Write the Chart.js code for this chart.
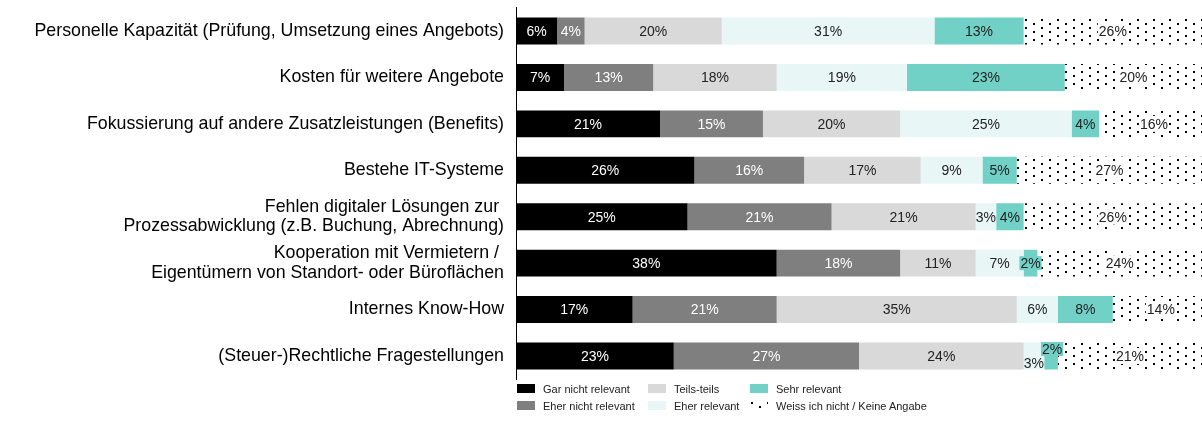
<!DOCTYPE html>
<html lang="de">
<head>
<meta charset="utf-8">
<title>Hemmnisse</title>
<script src="https://cdn.jsdelivr.net/npm/chart.js@4/dist/chart.umd.min.js"></script>
<style>
    body { margin: 0; background: #fff; font-family: 'Liberation Sans', Arial, sans-serif; overflow: hidden; }
    #wrap { position: relative; width: 1202px; height: 421px; overflow: hidden; }
    #chart { position: absolute; left: 0; top: -14px; }
    #legende { position: absolute; left: 0; top: 0; width: 1202px; height: 421px; pointer-events: none; }
    .item { position: absolute; font-size: 11px; color: #222; line-height: 12px; white-space: nowrap; }
    .box { position: absolute; width: 18px; height: 9px; }
</style>
</head>
<body>
<div id="wrap">
    <canvas id="chart" width="1202" height="415"></canvas>
    <div id="legende"></div>
</div>
<script>
// Kategorien (Zeilen)
var kategorien = [
    'Personelle Kapazität (Prüfung, Umsetzung eines Angebots)',
    'Kosten für weitere Angebote',
    'Fokussierung auf andere Zusatzleistungen (Benefits)',
    'Bestehe IT-Systeme',
    ['Fehlen digitaler Lösungen zur ', 'Prozessabwicklung (z.B. Buchung, Abrechnung)'],
    ['Kooperation mit Vermietern / ', 'Eigentümern von Standort- oder Büroflächen'],
    'Internes Know-How',
    '(Steuer-)Rechtliche Fragestellungen'
];

// Antwortkategorien
var serien = [
    'Gar nicht relevant',
    'Eher nicht relevant',
    'Teils-teils',
    'Eher relevant',
    'Sehr relevant',
    'Weiss ich nicht / Keine Angabe'
];

// Werte in Prozent, je Serie
var garNicht   = [6, 7, 21, 26, 25, 38, 17, 23];
var eherNicht  = [4, 13, 15, 16, 21, 18, 21, 27];
var teilsTeils = [20, 18, 20, 17, 21, 11, 35, 24];
var eherRel    = [31, 19, 25, 9, 3, 7, 6, 3];
var sehrRel    = [13, 23, 4, 5, 4, 2, 8, 2];
var weissNicht = [26, 20, 16, 27, 26, 24, 14, 21];

var farben = ['#000000', '#7f7f7f', '#d9d9d9', '#e8f6f5', '#71d1c7', null];
var textFarben = ['#ffffff', '#ffffff', '#222222', '#222222', '#222222', '#222222'];

// Punktmuster für "Weiss ich nicht"
function punktMuster() {
    var c = document.createElement('canvas');
    c.width = 16;
    c.height = 8;
    var g = c.getContext('2d');
    g.fillStyle = '#ffffff';
    g.fillRect(0, 0, 16, 8);
    g.fillStyle = '#000000';
    g.fillRect(1, 1, 2, 2);
    g.fillRect(9, 5, 2, 2);
    return c;
}
var musterCanvas = punktMuster();
var ctx = document.getElementById('chart').getContext('2d');
farben[5] = ctx.createPattern(musterCanvas, 'repeat');

var werte = [garNicht, eherNicht, teilsTeils, eherRel, sehrRel, weissNicht];

// Sonderfälle für kleine Segmente (Serie-Zeile): Verschiebung und Hintergrund
var labelVerschiebung = {
    '4-5': { dx: 0, dy: 0, bg: true },
    '3-7': { dx: 0, dy: 7, bg: false },
    '4-7': { dx: 1, dy: -7, bg: true }
};

var datalabels = {
    id: 'datalabels',
    afterDatasetsDraw: function (chart) {
        var c = chart.ctx;
        c.save();
        c.font = '14px "Liberation Sans", Arial, sans-serif';
        c.textAlign = 'center';
        c.textBaseline = 'middle';
        chart.data.datasets.forEach(function (ds, di) {
            var meta = chart.getDatasetMeta(di);
            meta.data.forEach(function (bar, i) {
                var v = ds.data[i];
                if (!v) {
                    return;
                }
                var txt = v + '%';
                var x = (bar.x + bar.base) / 2;
                var y = bar.y;
                var sonder = labelVerschiebung[di + '-' + i];
                if (sonder) {
                    x += sonder.dx;
                    y += sonder.dy;
                }
                var w = c.measureText(txt).width;
                if (di === 5) {
                    c.fillStyle = '#ffffff';
                    c.fillRect(x - w / 2 - 1, y - 8, w + 2, 16);
                } else if (sonder && sonder.bg) {
                    c.fillStyle = farben[di];
                    c.fillRect(x - w / 2 - 1, y - 7, w + 2, 14);
                }
                c.fillStyle = textFarben[di];
                c.fillText(txt, x, y + 1);
            });
        });
        c.restore();
    }
};

var chart = new Chart(ctx, {
    type: 'bar',
    data: {
        labels: kategorien,
        datasets: serien.map(function (name, i) {
            return {
                label: name,
                data: werte[i],
                backgroundColor: farben[i],
                borderWidth: 0,
                barPercentage: 0.58,
                categoryPercentage: 1
            };
        })
    },
    options: {
        indexAxis: 'y',
        responsive: false,
        animation: false,
        layout: { padding: { top: 6, bottom: 3, left: 0, right: 0 } },
        plugins: {
            legend: { display: false },
            tooltip: { enabled: false }
        },
        scales: {
            x: {
                stacked: true,
                display: false,
                min: 0,
                max: 100
            },
            y: {
                stacked: true,
                grid: { display: false, drawTicks: false },
                border: { display: true, color: '#000000', width: 1 },
                ticks: {
                    color: '#000000',
                    padding: 12,
                    font: { family: '"Liberation Sans", Arial, sans-serif', size: 17.8, lineHeight: 1.1 }
                },
                afterFit: function (scale) {
                    scale.width = 516;
                }
            }
        }
    },
    plugins: [datalabels]
});

// Legende als HTML, zweizeilig spaltenweise
var legende = document.getElementById('legende');
var spalten = [517, 648, 750];
var zeilen = [384, 401];
serien.forEach(function (name, i) {
    var sp = Math.floor(i / 2);
    var ze = i % 2;
    var box = document.createElement('div');
    box.className = 'box';
    box.style.left = spalten[sp] + 'px';
    box.style.top = zeilen[ze] + 'px';
    if (i === 5) {
        box.style.backgroundImage = 'url(' + musterCanvas.toDataURL() + ')';
    } else {
        box.style.background = farben[i];
    }
    legende.appendChild(box);
    var t = document.createElement('div');
    t.className = 'item';
    t.textContent = name;
    t.style.left = (spalten[sp] + 26) + 'px';
    t.style.top = (zeilen[ze] - 1) + 'px';
    legende.appendChild(t);
});
</script>
</body>
</html>
